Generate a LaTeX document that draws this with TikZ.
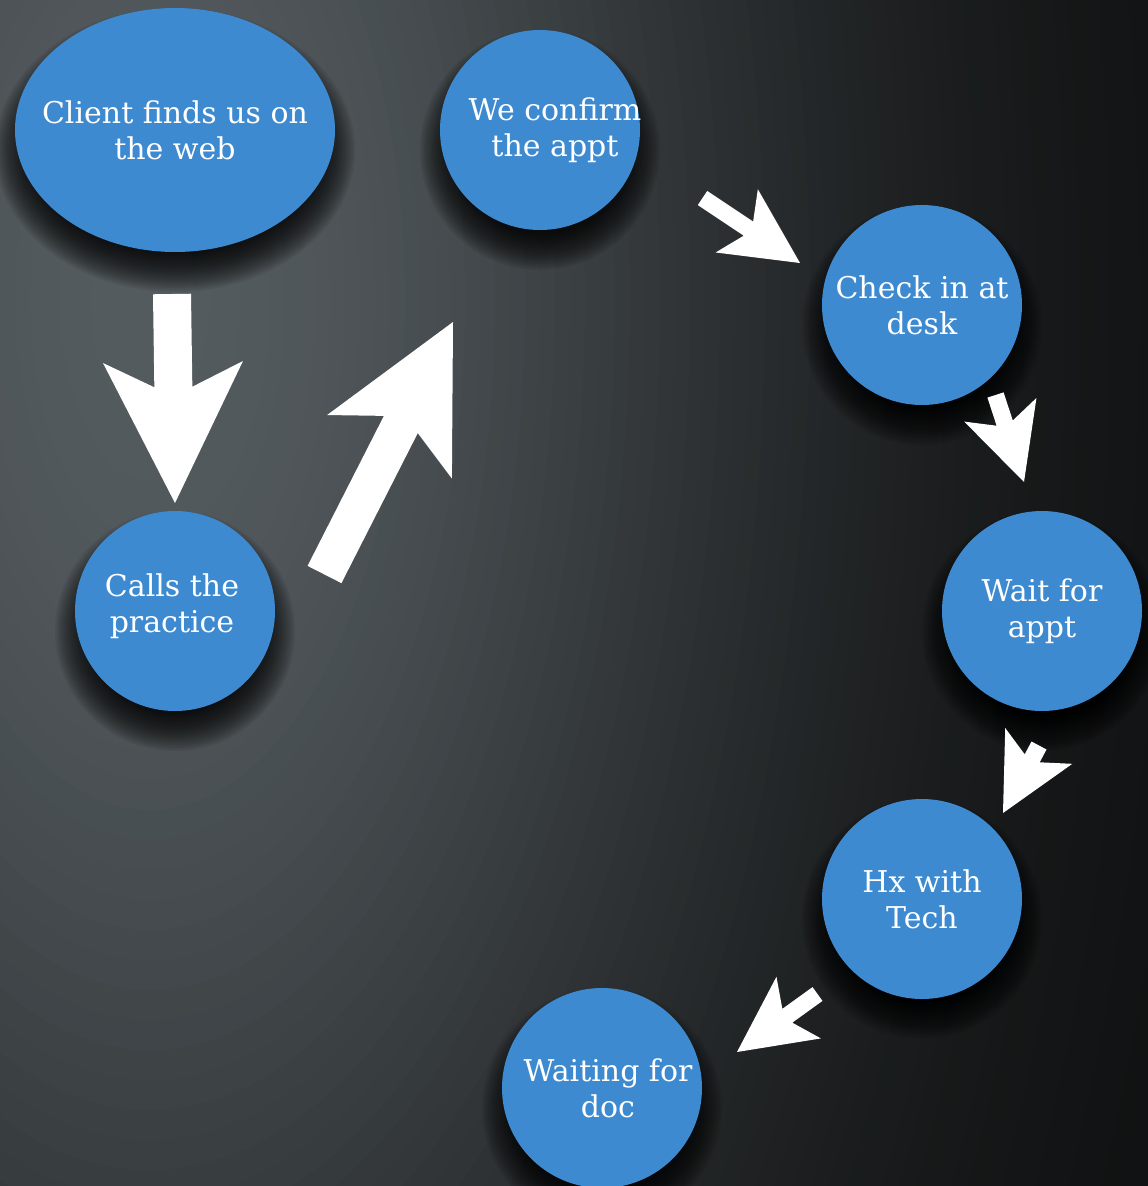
\documentclass[tikz,border=0pt]{standalone}
\usepackage{fontspec}
\setmainfont{DejaVu Serif}
\usetikzlibrary{calc,shapes.geometric}
\definecolor{nodeblue}{RGB}{62,138,208}
\pgfdeclarelayer{bglayer}
\pgfdeclarelayer{shadowlayer}
\pgfsetlayers{bglayer,shadowlayer,main}
\tikzset{
  stepnode/.style={circle, fill=nodeblue, minimum size=200pt, inner sep=0pt},
  ovalnode/.style={ellipse, fill=nodeblue, minimum width=320pt, minimum height=244pt, inner sep=0pt},
  lbl/.style={text=white, align=center, font=\fontsize{30}{36}\selectfont, inner sep=0pt},
  arrowfill/.style={fill=white},
  shadowfill/.style={fill=black, opacity=0.07}
}
% #1 tail, #2 tip, #3 shaft half width, #4 notch distance, #5 barb distance, #6 barb half width
\newcommand\blockarrow[6]{%
  \coordinate (#1-#2-n) at ($(#2)!#4!(#1)$);
  \coordinate (#1-#2-b) at ($(#2)!#5!(#1)$);
  \fill[arrowfill] ($(#1)!#3!90:(#2)$) -- ($(#1-#2-n)!#3!90:(#2)$) -- ($(#1-#2-b)!#6!90:(#2)$)
    -- (#2) -- ($(#1-#2-b)!#6!-90:(#2)$) -- ($(#1-#2-n)!#3!-90:(#2)$) -- ($(#1)!#3!-90:(#2)$) -- cycle;
}
% soft drop shadow under a node: #1 name, #2 x radius, #3 y radius
\newcommand\nodeshadow[3]{%
  \foreach \e in {20,18,...,-30}{%
    \fill[shadowfill] ([yshift=-20pt]#1.center) ellipse [x radius={(#2+\e)*1pt}, y radius={(#3+\e)*1pt}];
  }%
}
\begin{document}
\begin{tikzpicture}[x=1pt,y=-1pt]
\useasboundingbox (0,0) rectangle (1148,1186);

\node[ovalnode, label={[lbl]center:{Client finds us on\\the web}}] (web) at (175,130) {};
\node[stepnode, label={[lbl, xshift=15pt]center:{We confirm\\the appt}}] (confirm) at (540,130) {};
\node[stepnode, label={[lbl]center:{Check in at\\desk}}] (checkin) at (922,305) {};
\node[stepnode, label={[lbl, yshift=5pt, xshift=-3pt]center:{Calls the\\practice}}] (calls) at (175,611) {};
\node[stepnode, label={[lbl]center:{Wait for\\appt}}] (wait) at (1042,611) {};
\node[stepnode, label={[lbl]center:{Hx with\\Tech}}] (hx) at (922,899) {};
\node[stepnode, label={[lbl, xshift=6pt]center:{Waiting for\\doc}}] (waiting) at (602,1088) {};

\begin{pgfonlayer}{bglayer}
  \begin{scope}
    \clip (0,0) rectangle (1148,1186);
    \fill[black!95] (0,0) rectangle (1148,1186);
    \foreach \R in {1500,1485,...,15}{%
      \pgfmathsetmacro\g{14+76*exp(-(\R/640)^2)}%
      \pgfmathtruncatemacro\cr{\g*0.94}%
      \pgfmathtruncatemacro\cg{\g*1.02}%
      \pgfmathtruncatemacro\cb{\g*1.06}%
      \definecolor{bgc}{RGB}{\cr,\cg,\cb}%
      \fill[bgc] (150,300) ellipse [x radius={\R*1pt}, y radius={2*\R*1pt}];
    }
  \end{scope}
\end{pgfonlayer}

\begin{pgfonlayer}{shadowlayer}
  \nodeshadow{web}{160}{122}
  \nodeshadow{confirm}{100}{100}
  \nodeshadow{checkin}{100}{100}
  \nodeshadow{calls}{100}{100}
  \nodeshadow{wait}{100}{100}
  \nodeshadow{hx}{100}{100}
  \nodeshadow{waiting}{100}{100}
\end{pgfonlayer}

\coordinate (a1s) at (172,294);   \coordinate (a1e) at (175,503);
\coordinate (a2s) at (324.5,574.5); \coordinate (a2e) at (453,322);
\coordinate (a3s) at (702.5,198); \coordinate (a3e) at (800,263);
\coordinate (a4s) at (995.5,395); \coordinate (a4e) at (1024,482);
\coordinate (a5s) at (1039,745.5); \coordinate (a5e) at (1003,813);
\coordinate (a6s) at (817.5,994); \coordinate (a6e) at (737,1052);

\blockarrow{a1s}{a1e}{19pt}{116pt}{141pt}{70pt}
\blockarrow{a2s}{a2e}{19pt}{115pt}{140pt}{70pt}
\blockarrow{a3s}{a3e}{8.5pt}{62pt}{76pt}{38pt}
\blockarrow{a4s}{a4e}{8.5pt}{62pt}{76pt}{38pt}
\blockarrow{a5s}{a5e}{8.5pt}{62pt}{76pt}{38pt}
\blockarrow{a6s}{a6e}{8.5pt}{62pt}{76pt}{38pt}
\end{tikzpicture}
\end{document}
